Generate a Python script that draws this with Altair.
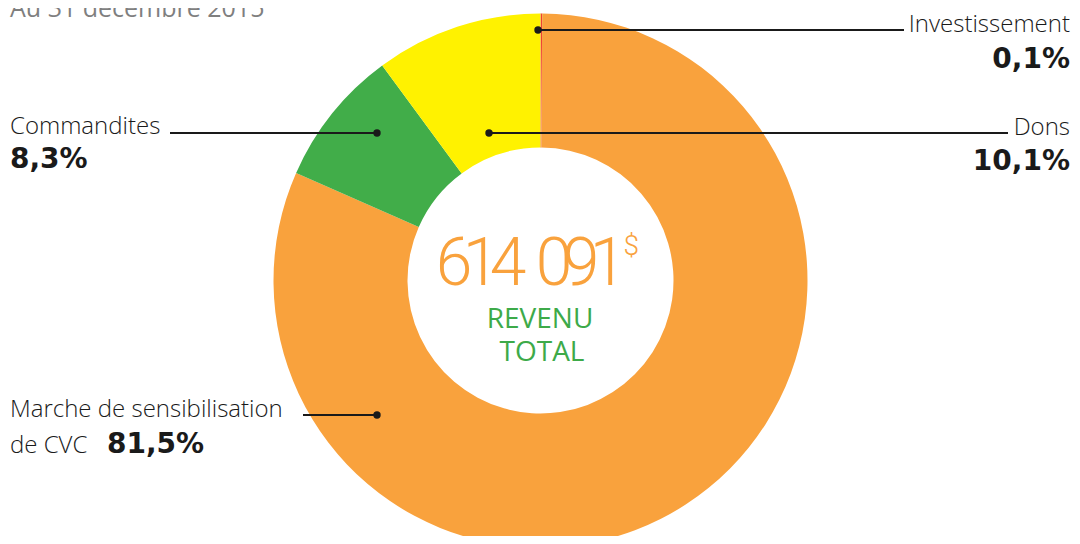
import altair as alt
import pandas as pd

# ---------------- data ----------------
categories = ["Investissement", "Marche de sensibilisation de CVC", "Commandites", "Dons"]
category_lines = [["Investissement"], ["Marche de sensibilisation", "de CVC"], ["Commandites"], ["Dons"]]
shares = [0.1, 81.5, 8.3, 10.1]
share_labels = ["0,1%", "81,5%", "8,3%", "10,1%"]
colors = ["#EF4136", "#F9A23D", "#41AD49", "#FFF200"]
total_label = "614 091"
currency = "$"
caption_lines = ["REVENU", "TOTAL"]
subtitle = "Au 31 décembre 2015"

# ---------------- layout (pixels in the view; page = view + 8) ----------------
W, H = 1064, 528
CX, CY = 532.5, 272.5
R_OUT, R_IN = 267, 133
FONT = "Open Sans"
BOLD_FONT = "DejaVu Sans"
NUM_FONT = "Roboto"
INK = "#1a1a1a"
ORANGE = "#F9A23D"
GREEN = "#3DAA49"

leaders = {
    "Investissement": dict(dot=530, end=896, y=22, side="right", ty=24, py=60),
    "Dons": dict(dot=481, end=1000, y=125, side="right", ty=127, py=162),
    "Commandites": dict(dot=369, end=162, y=125, side="left", ty=126, py=160),
    "Marche de sensibilisation de CVC": dict(dot=369, end=295, y=407, side="left", ty=409, py=445),
}
RIGHT_X = W - 2
LEFT_X = 2
LINE_STEP = 36
INLINE_PCT_X = 99

# center number: per-character placement (condensed look)
NUM_X0, NUM_PITCH, NUM_GAP, NUM_BASE, NUM_SIZE = 446, 27, 19, 277, 66

xs = alt.Scale(domain=[0, W], range=[0, W], nice=False, zero=False)
ys = alt.Scale(domain=[0, H], range=[0, H], nice=False, zero=False)


def X(f="px"):
    return alt.X(f"{f}:Q", scale=xs, axis=None)


def Y(f="py"):
    return alt.Y(f"{f}:Q", scale=ys, axis=None)


# ---------------- donut ----------------
pie_df = pd.DataFrame({"cat": categories, "share": shares, "ord": list(range(len(shares)))})
donut = alt.Chart(pie_df).mark_arc(outerRadius=R_OUT, innerRadius=R_IN, strokeWidth=0).encode(
    theta=alt.Theta("share:Q", stack=True),
    order=alt.Order("ord:Q"),
    color=alt.Color("cat:N", scale=alt.Scale(domain=categories, range=colors), legend=None),
    x=alt.value(CX),
    y=alt.value(CY),
)

# ---------------- leaders ----------------
rows_line, rows_dot = [], []
reg_left, reg_right, bold_left, bold_right = [], [], [], []
for cat, lines, lab in zip(categories, category_lines, share_labels):
    L = leaders[cat]
    rows_line.append(dict(px=min(L["dot"], L["end"]), px2=max(L["dot"], L["end"]), py=L["y"]))
    rows_dot.append(dict(px=L["dot"], py=L["y"]))
    if L["side"] == "right":
        for i, t in enumerate(lines):
            reg_right.append(dict(t=t, px=RIGHT_X, py=L["ty"] + i * LINE_STEP))
        bold_right.append(dict(t=lab, px=RIGHT_X, py=L["py"]))
    else:
        for i, t in enumerate(lines):
            reg_left.append(dict(t=t, px=LEFT_X, py=L["ty"] + i * LINE_STEP))
        bold_left.append(dict(t=lab, px=INLINE_PCT_X if len(lines) > 1 else LEFT_X, py=L["py"]))

rules = alt.Chart(pd.DataFrame(rows_line)).mark_rule(color=INK, strokeWidth=2).encode(
    x=X(), x2="px2:Q", y=Y()
)
dots = alt.Chart(pd.DataFrame(rows_dot)).mark_circle(color=INK, opacity=1, size=55).encode(
    x=X(), y=Y()
)


def text_layer(rows, align, font, size, weight, color):
    return alt.Chart(pd.DataFrame(rows)).mark_text(
        align=align, baseline="alphabetic", font=font, fontSize=size, fontWeight=weight, color=color
    ).encode(x=X(), y=Y(), text="t:N")


t_reg_l = text_layer(reg_left, "left", FONT, 24, 300, INK)
t_reg_r = text_layer(reg_right, "right", FONT, 24, 300, INK)
t_bold_l = text_layer(bold_left, "left", BOLD_FONT, 28, "bold", INK)
t_bold_r = text_layer(bold_right, "right", BOLD_FONT, 28, "bold", INK)

# ---------------- center ----------------
num_rows = []
x = NUM_X0
for ch in total_label:
    if ch == " ":
        x += NUM_GAP
        continue
    num_rows.append(dict(t=ch, px=x, py=NUM_BASE))
    x += NUM_PITCH
t_total = text_layer(num_rows, "center", NUM_FONT, NUM_SIZE, 300, ORANGE)
t_cur = text_layer([dict(t=currency, px=x - NUM_PITCH / 2 + 2, py=247)], "left", NUM_FONT, 28, 300, ORANGE)
t_cap = text_layer([dict(t=caption_lines[0], px=532, py=320), dict(t=caption_lines[1], px=534, py=353)],
                   "center", FONT, 28, 500, GREEN)

# ---------------- subtitle ----------------
t_sub = text_layer([dict(t=subtitle, px=LEFT_X, py=9)], "left", FONT, 25, "normal", "#7f7f7f")

chart = alt.layer(
    donut, rules, dots, t_reg_l, t_reg_r, t_bold_l, t_bold_r, t_total, t_cur, t_cap, t_sub
).properties(
    width=W, height=H, padding=0, autosize=alt.AutoSizeParams(type="none"), background="white"
).configure_view(stroke=None)

chart.save("out.html", embed_options={"renderer": "svg", "actions": False})
